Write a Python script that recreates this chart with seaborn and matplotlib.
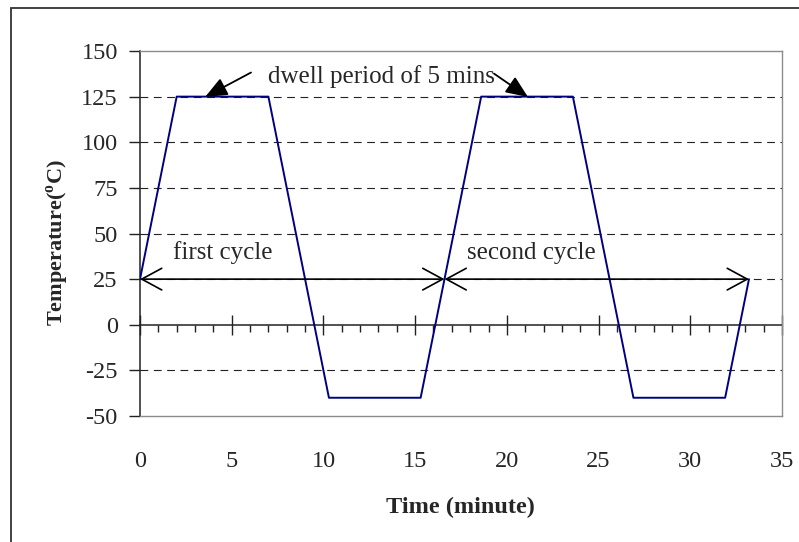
import matplotlib
matplotlib.use("Agg")
import matplotlib.pyplot as plt
from matplotlib.patches import Rectangle
from matplotlib.ticker import MultipleLocator
import seaborn as sns
import pandas as pd

# Thermal cycling profile: two cycles between 125 C and -40 C
time_min = [0, 2, 7, 10.3, 15.3, 18.6, 23.6, 26.9, 31.9, 33.2]
temperature_c = [25, 125, 125, -40, -40, 125, 125, -40, -40, 25]

x_ticks = [0, 5, 10, 15, 20, 25, 30, 35]
y_ticks = [-50, -25, 0, 25, 50, 75, 100, 125, 150]
grid_levels = [-25, 25, 50, 75, 100, 125]

cycle_start = 0
cycle_mid = 16.6
cycle_end = 33.2
dwell_label = "dwell period of 5 mins"

df = pd.DataFrame({"time": time_min, "temp": temperature_c})

sns.set_style("white")
plt.rcParams["font.family"] = ["Liberation Serif", "DejaVu Serif"]
plt.rcParams["mathtext.fontset"] = "custom"
plt.rcParams["mathtext.rm"] = "Liberation Serif"
plt.rcParams["mathtext.bf"] = "Liberation Serif:bold"

W, H = 799, 542
fig = plt.figure(figsize=(W / 100, H / 100), dpi=100)
fig.patch.set_facecolor("white")

# outer chart frame (open at right and bottom)
fig.add_artist(Rectangle((11 / W, -0.1), 1.2, (H - 8) / H + 0.1,
                         transform=fig.transFigure, fill=False,
                         edgecolor="#333333", linewidth=1.3))

ax = fig.add_axes([140 / W, (H - 416) / H, 642 / W, 365 / H])
ax.set_xlim(0, 35)
ax.set_ylim(-50, 150)

for lvl in grid_levels:
    ax.axhline(lvl, color="#222222", linewidth=0.8,
               linestyle=(0, (7, 5)), zorder=1)

sns.lineplot(data=df, x="time", y="temp", ax=ax, color="#000080",
             linewidth=1.4, zorder=4)

# spines: left axis black, plot-area border grey
for side in ["top", "right", "bottom"]:
    ax.spines[side].set_color("#8c8c8c")
    ax.spines[side].set_linewidth(1.0)
ax.spines["left"].set_color("#222222")
ax.spines["left"].set_linewidth(1.1)

ax.set_xticks(x_ticks)
ax.set_yticks(y_ticks)
ax.set_yticklabels([str(v) for v in y_ticks])
ax.tick_params(axis="x", length=0, pad=25, labelsize=17.5)
ax.tick_params(axis="y", direction="out", length=8, width=1.0,
               color="#222222", pad=8, labelsize=17.5, left=True)
ax.set_xlabel("")
ax.set_ylabel("")

# category axis crossing at zero
zero_frac = (0 - (-50)) / (150 - (-50))
sec = ax.secondary_xaxis(zero_frac)
sec.set_xticks(x_ticks)
sec.xaxis.set_minor_locator(MultipleLocator(1))
sec.tick_params(which="major", direction="inout", length=14, width=1.0,
                color="#222222", labelbottom=False, labeltop=False)
sec.tick_params(which="minor", direction="out", length=5, width=1.0,
                color="#222222")
sec.spines["bottom"].set_color("#222222")
sec.spines["bottom"].set_linewidth(1.1)
sec.xaxis.set_ticks_position("bottom")
sec.set_xticklabels([])

# cycle span arrows
arrow_kw = dict(arrowstyle="<->,head_length=0.48,head_width=0.26",
                color="black", linewidth=1.2, shrinkA=0, shrinkB=0,
                mutation_scale=30)
ax.annotate("", xy=(cycle_start, 25), xytext=(cycle_mid, 25),
            arrowprops=arrow_kw, zorder=5)
ax.annotate("", xy=(cycle_mid, 25), xytext=(cycle_end, 25),
            arrowprops=arrow_kw, zorder=5)
ax.text(1.79, 36, "first cycle", fontsize=18, va="baseline", ha="left")
ax.text(17.84, 36, "second cycle", fontsize=18, va="baseline", ha="left")

# dwell annotation
ax.text(7.0, 132.5, dwell_label, fontsize=18, va="baseline", ha="left",
        zorder=6)
dwell_kw = dict(arrowstyle="-|>,head_length=0.9,head_width=0.38",
                color="black", linewidth=1.3, shrinkA=0, shrinkB=0,
                mutation_scale=15)
ax.annotate("", xy=(3.55, 124.8), xytext=(6.05, 138.2),
            arrowprops=dwell_kw, zorder=6)
ax.annotate("", xy=(21.15, 124.8), xytext=(19.3, 137.6),
            arrowprops=dwell_kw, zorder=6)

fig.text(58 / W, 1 - 243 / H, "Temperature(" + r"$^{\mathbf{o}}$" + "C)",
         rotation=90, ha="center", va="center", fontsize=16,
         fontweight="bold")
fig.text(460 / W, 1 - 507 / H, "Time (minute)", ha="center", va="center",
         fontsize=17.5, fontweight="bold")

fig.savefig("out.png", dpi=100, facecolor="white")
